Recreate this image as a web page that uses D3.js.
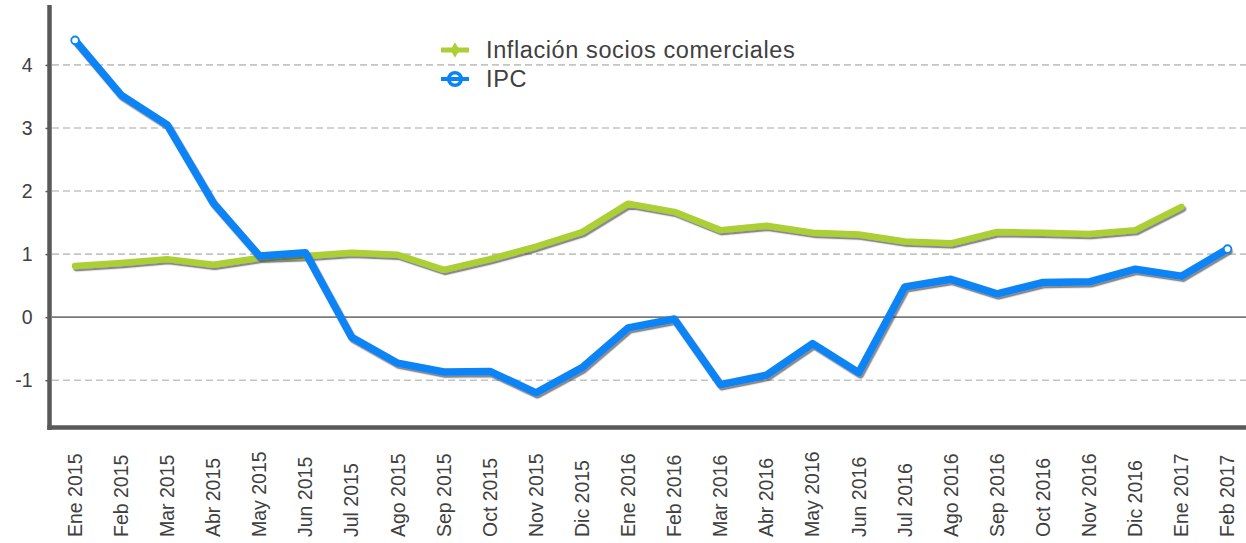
<!DOCTYPE html>
<html>
<head>
<meta charset="utf-8">
<script src="https://cdn.jsdelivr.net/npm/d3@7"></script>
<style>
  html, body { margin: 0; padding: 0; background: #fff; }
  svg { display: block; font-family: "Liberation Sans", Arial, sans-serif; }
</style>
</head>
<body>
<svg id="chart" width="1246" height="543"></svg>
<script>
// Monthly year-on-year inflation: trading partners vs. IPC
const months = [
  "Ene 2015", "Feb 2015", "Mar 2015", "Abr 2015", "May 2015", "Jun 2015",
  "Jul 2015", "Ago 2015", "Sep 2015", "Oct 2015", "Nov 2015", "Dic 2015",
  "Ene 2016", "Feb 2016", "Mar 2016", "Abr 2016", "May 2016", "Jun 2016",
  "Jul 2016", "Ago 2016", "Sep 2016", "Oct 2016", "Nov 2016", "Dic 2016",
  "Ene 2017", "Feb 2017"
];
const ipc = [
  4.39, 3.52, 3.05, 1.81, 0.97, 1.02,
  -0.32, -0.73, -0.87, -0.86, -1.20, -0.80,
  -0.17, -0.03, -1.07, -0.92, -0.42, -0.88,
  0.48, 0.60, 0.37, 0.55, 0.56, 0.76,
  0.65, 1.08
];
const socios = [
  0.81, 0.86, 0.92, 0.83, 0.94, 0.97,
  1.02, 0.99, 0.75, 0.92, 1.12, 1.35,
  1.80, 1.67, 1.38, 1.45, 1.34, 1.31,
  1.20, 1.17, 1.35, 1.34, 1.32, 1.38,
  1.75, null
];
const yTicks = [-1, 0, 1, 2, 3, 4];
const yTickLabels = ["-1", "0", "1", "2", "3", "4"];
const seriesNames = ["Inflación socios comerciales", "IPC"];

const GREEN = "#abcf35";
const BLUE = "#0a84f5";
const AXIS = "#595959";
const TEXT = "#404040";

const svg = d3.select("#chart");
const W = 1246;

const x = d3.scaleBand().domain(months).range([52, 52 + 26 * 46.1]);
const xc = d => x(d) + x.bandwidth() / 2;
const y = d3.scaleLinear().domain([-1.75, 4.95]).range([427.5, 5]);

// drop shadow under the series lines
const defs = svg.append("defs");
const f = defs.append("filter").attr("id", "shadow")
  .attr("x", "-5%").attr("y", "-5%").attr("width", "110%").attr("height", "120%");
f.append("feDropShadow").attr("dx", 1.5).attr("dy", 2.2)
  .attr("stdDeviation", 0.7).attr("flood-color", "#3a3a3a").attr("flood-opacity", 0.6);

// horizontal gridlines
svg.append("g").selectAll("line").data(yTicks).join("line")
  .attr("x1", 52).attr("x2", W)
  .attr("y1", d => y(d)).attr("y2", d => y(d))
  .attr("stroke", d => d === 0 ? "#7a7a7a" : "#c4c4c4")
  .attr("stroke-width", 1.6)
  .attr("stroke-dasharray", d => d === 0 ? null : "7,4");

// y axis ticks + labels
const yAxis = d3.axisLeft(y).tickValues(yTicks).tickSize(4).tickPadding(13)
  .tickFormat((d, i) => yTickLabels[i]);
const gy = svg.append("g").attr("transform", "translate(49.5,0)").call(yAxis);
gy.select(".domain").remove();
gy.selectAll(".tick line").attr("stroke", AXIS).attr("stroke-width", 1.5);
gy.selectAll(".tick text").attr("fill", TEXT).attr("font-size", "19.5px")
  .attr("font-family", "Liberation Sans, Arial, sans-serif");

// x labels, rotated, aligned at the bottom
svg.append("g").selectAll("text").data(months).join("text")
  .attr("transform", d => `translate(${xc(d)},537) rotate(-90)`)
  .attr("dy", "0.35em")
  .attr("text-anchor", "start")
  .attr("fill", TEXT).attr("font-size", "19.5px")
  .text(d => d);

// axis frame
svg.append("line").attr("x1", 49.5).attr("x2", 49.5).attr("y1", 5).attr("y2", 430)
  .attr("stroke", AXIS).attr("stroke-width", 4.5);
svg.append("line").attr("x1", 47.25).attr("x2", W).attr("y1", 427.5).attr("y2", 427.5)
  .attr("stroke", AXIS).attr("stroke-width", 4.5);

// series lines
const line = d3.line()
  .defined(d => d.v !== null)
  .x(d => xc(d.m)).y(d => y(d.v));

const greenData = months.map((m, i) => ({ m, v: socios[i] }));
const blueData = months.map((m, i) => ({ m, v: ipc[i] }));

svg.append("path").datum(greenData)
  .attr("d", line).attr("fill", "none")
  .attr("stroke", GREEN).attr("stroke-width", 6.5)
  .attr("stroke-linejoin", "round").attr("stroke-linecap", "round")
  .attr("filter", "url(#shadow)");

svg.append("path").datum(blueData)
  .attr("d", line).attr("fill", "none")
  .attr("stroke", BLUE).attr("stroke-width", 7.5)
  .attr("stroke-linejoin", "round").attr("stroke-linecap", "round")
  .attr("filter", "url(#shadow)");

// hollow end markers on IPC
const ends = [blueData[0], blueData[blueData.length - 1]];
svg.append("g").selectAll("circle").data(ends).join("circle")
  .attr("cx", d => xc(d.m)).attr("cy", d => y(d.v)).attr("r", 3.8)
  .attr("fill", "#fff").attr("stroke", BLUE).attr("stroke-width", 1.8);

// legend
const lg = svg.append("g");
const lx = 441, lw = 28;
// socios comerciales
lg.append("line").attr("x1", lx).attr("x2", lx + lw).attr("y1", 50).attr("y2", 50)
  .attr("stroke", GREEN).attr("stroke-width", 5);
lg.append("path")
  .attr("d", d3.symbol(d3.symbolDiamond, 70)())
  .attr("transform", `translate(${lx + lw / 2},50)`)
  .attr("fill", GREEN);
// IPC
lg.append("circle").attr("cx", lx + lw / 2).attr("cy", 79).attr("r", 6.3)
  .attr("fill", "#fff").attr("stroke", BLUE).attr("stroke-width", 3.6);
lg.append("line").attr("x1", lx).attr("x2", lx + lw).attr("y1", 79).attr("y2", 79)
  .attr("stroke", BLUE).attr("stroke-width", 4);

lg.selectAll("text").data(seriesNames).join("text")
  .attr("x", 486).attr("y", (d, i) => 50 + i * 29)
  .attr("dy", "0.35em")
  .attr("fill", TEXT).attr("font-size", "23.5px")
  .attr("letter-spacing", "0.6px")
  .text(d => d);
</script>
</body>
</html>
